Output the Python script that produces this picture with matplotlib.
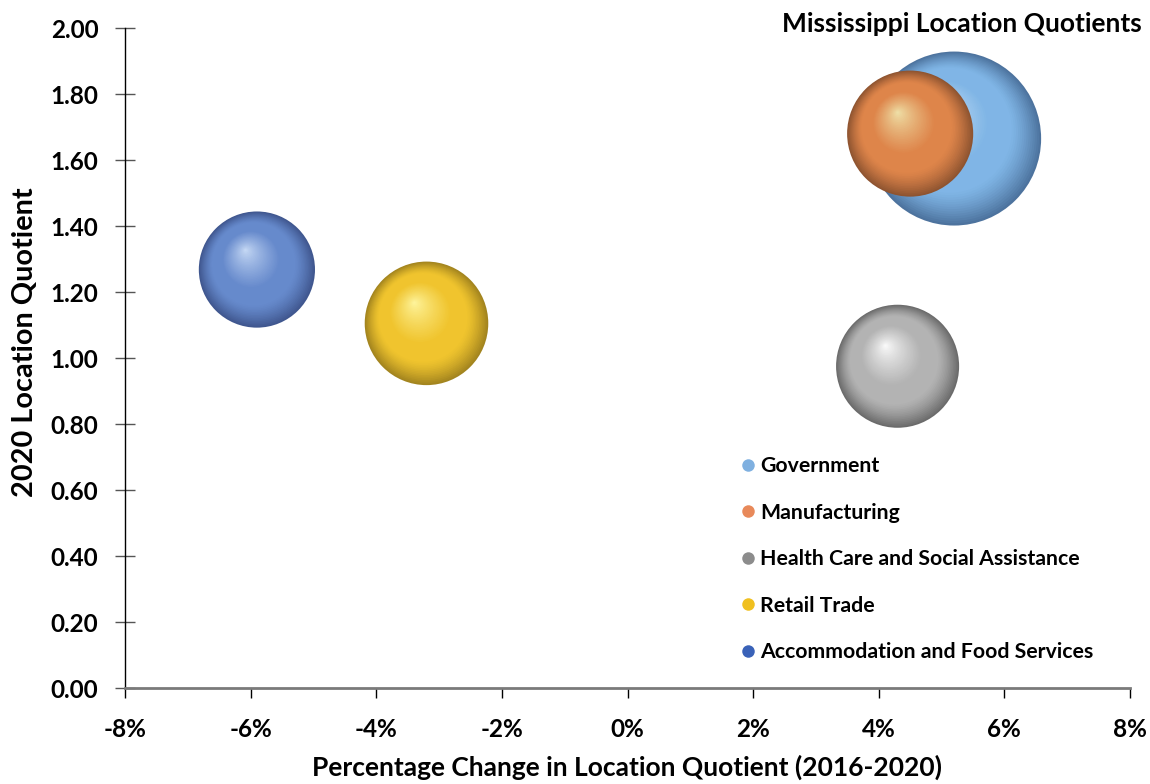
import numpy as np
import matplotlib
matplotlib.use('Agg')
import matplotlib.pyplot as plt
from matplotlib.transforms import offset_copy
from matplotlib.ticker import FuncFormatter
from matplotlib.lines import Line2D

# ---- data ----
industries = ['Government', 'Manufacturing', 'Health Care and Social Assistance',
              'Retail Trade', 'Accommodation and Food Services']
pct_change = [5.2, 4.5, 4.3, -3.2, -5.9]          # % change in LQ 2016-2020
lq_2020 = [1.665, 1.68, 0.975, 1.105, 1.268]       # 2020 location quotient
bubble_size = [240, 126, 120, 121, 107]             # relative bubble size

x_ticks = [-8, -6, -4, -2, 0, 2, 4, 6, 8]
y_ticks = [0.0, 0.2, 0.4, 0.6, 0.8, 1.0, 1.2, 1.4, 1.6, 1.8, 2.0]

# colours: (highlight, base, edge)
palette = [
    ((0.84, 0.92, 0.98), (0.50, 0.71, 0.90), (0.30, 0.45, 0.62)),
    ((0.94, 0.90, 0.68), (0.87, 0.52, 0.29), (0.56, 0.33, 0.19)),
    ((1.00, 1.00, 1.00), (0.70, 0.70, 0.70), (0.42, 0.42, 0.42)),
    ((1.00, 0.97, 0.64), (0.94, 0.77, 0.18), (0.64, 0.52, 0.12)),
    ((0.80, 0.87, 0.97), (0.40, 0.54, 0.80), (0.25, 0.34, 0.56)),
]
legend_colors = ['#7fb0e0', '#e8895a', '#8c8c8c', '#f0c020', '#3a62b8']

font = ['Lato', 'DejaVu Sans']
plt.rcParams['font.family'] = font

fig = plt.figure(figsize=(11.5, 7.84), dpi=100)
ax = fig.add_axes([125/1150, 1-688/784, (1130-125)/1150, (688-28)/784])
ax.set_xlim(-8, 8)
ax.set_ylim(0, 2.0)

K = 65.4  # points^2 per size unit
N = 50


def shade(t, hi, base, edge):
    # t: 1 at outer rim, 0 at highlight
    hi, base, edge = map(np.array, (hi, base, edge))
    if t < 0.5:
        u = (t / 0.5) ** 0.8
        c = hi * (1 - u) + base * u
    elif t < 0.72:
        c = base
    else:
        u = ((t - 0.72) / 0.28) ** 1.3
        c = base * (1 - u) + edge * u
    return tuple(np.clip(c, 0, 1))


for i, (x, y, sz) in enumerate(zip(pct_change, lq_2020, bubble_size)):
    s = sz * K
    r_pt = np.sqrt(s) / 2
    hi, base, edge = palette[i]
    dx, dy = -0.2 * r_pt, 0.34 * r_pt
    for k in range(N):
        t = 1 - k / N
        tr = offset_copy(ax.transData, fig=fig, x=dx * (1 - t), y=dy * (1 - t), units='points')
        ax.scatter([x], [y], s=s * t * t, color=shade(t, hi, base, edge),
                   edgecolors='none', transform=tr, zorder=2 + i * 0.01)

ax.xaxis.set_major_locator(plt.FixedLocator(x_ticks))
ax.yaxis.set_major_locator(plt.FixedLocator(y_ticks))
ax.xaxis.set_major_formatter(FuncFormatter(lambda v, p: f'{v:.0f}%'))
ax.yaxis.set_major_formatter(FuncFormatter(lambda v, p: f'{v:.2f}'))

for sp in ['top', 'right']:
    ax.spines[sp].set_visible(False)
ax.spines['left'].set_color('black')
ax.spines['left'].set_linewidth(1.0)
ax.spines['bottom'].set_color('#7a7a7a')
ax.spines['bottom'].set_linewidth(2.0)

ax.tick_params(axis='y', direction='inout', length=14.4, width=1.0, color='#555555',
               pad=12, labelsize=17.5)
ax.tick_params(axis='x', direction='out', length=7.2, width=1.0, color='black',
               pad=14.5, labelsize=17.5)
for lab in ax.get_xticklabels() + ax.get_yticklabels():
    lab.set_fontweight('bold')

ax.set_xlabel('Percentage Change in Location Quotient (2016-2020)', fontsize=19,
              fontweight='bold', labelpad=10)
ax.set_ylabel('2020 Location Quotient', fontsize=20.8, fontweight='bold', labelpad=9)
ax.yaxis.label.set_y(0.524)

fig.text(782/1150, 1 - 32/784, 'Mississippi Location Quotients', fontsize=19.0,
         fontweight='bold', ha='left', va='baseline')

handles = [Line2D([], [], marker='o', linestyle='none', markersize=9,
                  markerfacecolor=c, markeredgecolor='none') for c in legend_colors]
leg = ax.legend(handles, industries, loc='upper left',
                bbox_to_anchor=((742 - 125) / 1005, (688 - 456) / 660),
                frameon=False, handlelength=0.55, handletextpad=0.3,
                labelspacing=1.25, borderaxespad=0, borderpad=0,
                prop={'family': font, 'weight': 'bold', 'size': 15.3})

fig.savefig('out.png', dpi=100)
